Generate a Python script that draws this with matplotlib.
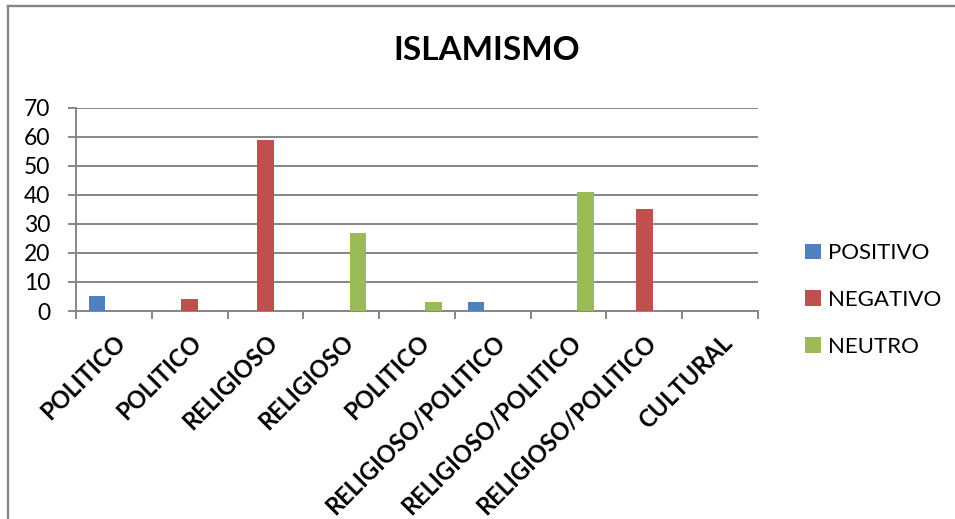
import numpy as np
import matplotlib.pyplot as plt
from matplotlib.lines import Line2D

categorias = ['POLITICO', 'POLITICO', 'RELIGIOSO', 'RELIGIOSO', 'POLITICO',
              'RELIGIOSO/POLITICO', 'RELIGIOSO/POLITICO', 'RELIGIOSO/POLITICO', 'CULTURAL']
positivo = [5, 0, 0, 0, 0, 3, 0, 0, 0]
negativo = [0, 4, 59, 0, 0, 0, 0, 35, 0]
neutro = [0, 0, 0, 27, 3, 0, 41, 0, 0]
series = ['POSITIVO', 'NEGATIVO', 'NEUTRO']
colores = ['#4F81BD', '#C0504D', '#9BBB59']

plt.rcParams['font.family'] = ['Lato', 'DejaVu Sans']

W, H = 955, 519
fig = plt.figure(figsize=(W / 100, H / 100), dpi=100)
ax = fig.add_axes([76 / W, 1 - 311 / H, (758 - 76) / W, (311 - 107.7) / H])

x = np.arange(len(categorias))
w = 1 / 4.5
for i, (vals, nombre, c) in enumerate(zip([positivo, negativo, neutro], series, colores)):
    ax.bar(x + (i - 1) * w, vals, w, color=c, label=nombre, zorder=3)

gris = '#868686'
ax.set_xlim(-0.5, len(categorias) - 0.5)
ax.set_ylim(0, 70)
ax.set_yticks(range(0, 71, 10))
ax.yaxis.grid(True, color=gris, linewidth=1.4, zorder=0)
for s in ['top', 'right']:
    ax.spines[s].set_visible(False)
for s in ['left', 'bottom']:
    ax.spines[s].set_color(gris)
    ax.spines[s].set_linewidth(1.4)

ax.set_xticks(np.arange(-0.5, len(categorias)), minor=False)
ax.set_xticklabels([])
ax.set_xticks(x, minor=True)
ax.set_xticklabels(categorias, minor=True, rotation=45, ha='right',
                   rotation_mode='anchor', fontsize=17, fontweight='bold')
ax.tick_params(axis='x', which='major', length=6, width=1.4, color=gris)
ax.tick_params(axis='x', which='minor', length=0, pad=14)
ax.tick_params(axis='y', length=6, width=1.4, color=gris, labelsize=16.5, pad=12.5)

fig.text(487 / W, 1 - 50 / H, 'ISLAMISMO', ha='center', va='center',
         fontsize=24, fontweight='bold')

fig.legend(loc='center left', bbox_to_anchor=(805 / W, 1 - 300 / H), frameon=False,
           fontsize=16, handlelength=0.7, handleheight=0.7, handletextpad=0.35,
           labelspacing=1.2, borderpad=0, borderaxespad=0)

fig.add_artist(Line2D([7.5 / W, 7.5 / W], [0, 1 - 6 / H], color=gris, linewidth=1.7,
                      transform=fig.transFigure))
fig.add_artist(Line2D([7.5 / W, 1], [1 - 6 / H, 1 - 6 / H], color=gris, linewidth=1.7,
                      transform=fig.transFigure))

fig.savefig('out.png', dpi=100)
